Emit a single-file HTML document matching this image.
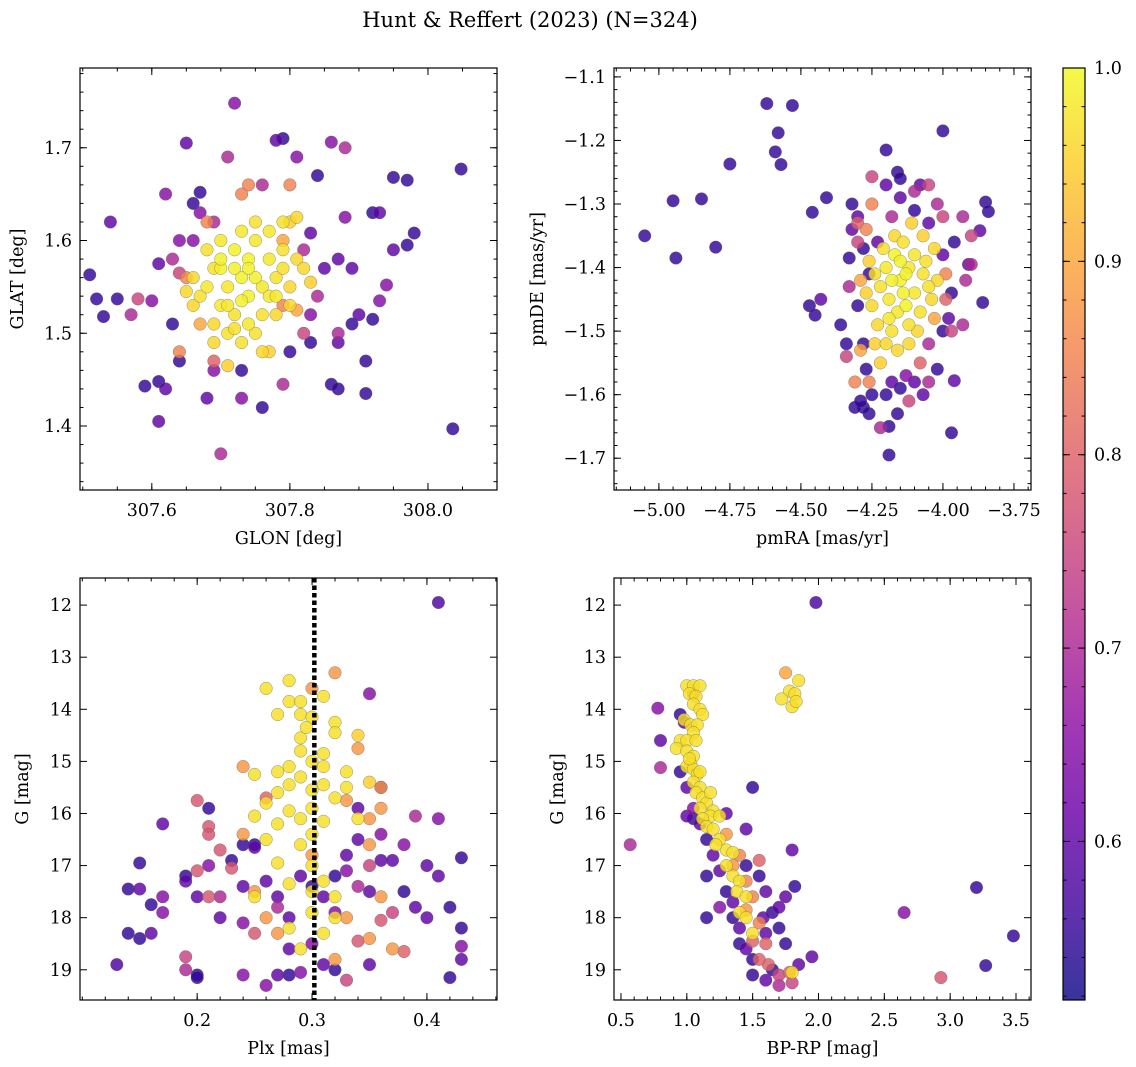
<!DOCTYPE html>
<html><head><meta charset="utf-8"><style>
html,body{margin:0;padding:0;background:#fff;}
svg{display:block;font-family:"DejaVu Serif","Liberation Serif",serif;}
</style></head><body>
<svg id="chart" width="1136" height="1067" viewBox="0 0 1136 1067">
<defs>
<linearGradient id="cbgrad" x1="0" y1="1" x2="0" y2="0">
<stop offset="0" stop-color="#0d0887"/><stop offset="0.1" stop-color="#41049d"/><stop offset="0.2" stop-color="#6a00a8"/><stop offset="0.3" stop-color="#8f0da4"/><stop offset="0.4" stop-color="#b12a90"/><stop offset="0.5" stop-color="#cc4778"/><stop offset="0.6" stop-color="#e16462"/><stop offset="0.7" stop-color="#f2844b"/><stop offset="0.8" stop-color="#fca636"/><stop offset="0.9" stop-color="#fcce25"/><stop offset="1" stop-color="#f0f921"/>
</linearGradient>
</defs>
<text x="530" y="27" font-size="21" text-anchor="middle">Hunt &amp; Reffert (2023) (N=324)</text>
</svg>
<script>
// ---------- data (approximate) ----------
const skyStars = [[307.51,1.563,0.55],[307.52,1.537,0.55],[307.53,1.518,0.55],[307.54,1.62,0.6],[307.55,1.537,0.55],[307.57,1.52,0.7],[307.58,1.537,0.75],[307.59,1.443,0.55],[307.61,1.405,0.6],[307.61,1.448,0.55],[307.62,1.44,0.6],[307.62,1.65,0.65],[307.63,1.51,0.55],[307.64,1.47,0.55],[307.64,1.6,0.65],[307.65,1.705,0.6],[307.66,1.64,0.55],[307.67,1.652,0.55],[307.68,1.43,0.6],[307.69,1.46,0.65],[307.7,1.37,0.7],[307.71,1.69,0.7],[307.72,1.748,0.65],[307.73,1.46,0.55],[307.73,1.43,0.65],[307.76,1.42,0.55],[307.78,1.708,0.6],[307.79,1.71,0.55],[307.79,1.445,0.7],[307.81,1.69,0.65],[307.83,1.608,0.6],[307.84,1.67,0.55],[307.86,1.706,0.65],[307.86,1.445,0.55],[307.87,1.44,0.55],[307.88,1.7,0.7],[307.88,1.625,0.65],[307.87,1.58,0.6],[307.89,1.51,0.55],[307.89,1.57,0.6],[307.9,1.52,0.6],[307.91,1.47,0.55],[307.92,1.515,0.55],[307.92,1.63,0.55],[307.91,1.435,0.55],[307.93,1.63,0.6],[307.93,1.535,0.65],[307.94,1.552,0.65],[307.95,1.59,0.6],[307.95,1.668,0.55],[307.97,1.665,0.55],[307.98,1.608,0.55],[307.97,1.595,0.55],[308.036,1.397,0.55],[308.048,1.677,0.55],[307.87,1.49,0.6],[307.87,1.5,0.7],[307.83,1.49,0.55],[307.8,1.48,0.55],[307.85,1.57,0.6],[307.82,1.59,0.7],[307.61,1.575,0.6],[307.6,1.535,0.65],[307.63,1.58,0.7],[307.67,1.63,0.65],[307.69,1.62,0.7],[307.66,1.6,0.65],[307.83,1.52,0.65],[307.84,1.54,0.7],[307.82,1.5,0.75],[307.76,1.66,0.7],[307.8,1.66,0.85],[307.74,1.66,0.85],[307.73,1.65,0.85],[307.68,1.62,0.85],[307.64,1.48,0.85],[307.69,1.47,0.8],[307.77,1.48,0.95],[307.71,1.465,0.95],[307.67,1.51,0.9],[307.81,1.525,0.9],[307.79,1.53,0.85],[307.65,1.56,0.85],[307.79,1.6,0.9],[307.8,1.62,0.95],[307.64,1.565,0.75],
[307.70,1.60,0.98],[307.72,1.59,0.99],[307.74,1.58,0.99],[307.75,1.60,0.98],[307.73,1.56,0.99],[307.71,1.55,0.98],[307.69,1.57,0.97],[307.68,1.55,0.98],[307.67,1.54,0.97],[307.66,1.53,0.96],[307.70,1.53,0.98],[307.72,1.52,0.97],[307.74,1.54,0.99],[307.76,1.55,0.98],[307.78,1.56,0.97],[307.77,1.58,0.98],[307.79,1.57,0.97],[307.80,1.55,0.96],[307.81,1.58,0.96],[307.76,1.52,0.97],[307.74,1.51,0.98],[307.71,1.50,0.97],[307.69,1.51,0.96],[307.73,1.49,0.97],[307.75,1.50,0.97],[307.78,1.52,0.96],[307.79,1.62,0.97],[307.81,1.625,0.96],[307.77,1.61,0.98],[307.75,1.62,0.97],[307.73,1.61,0.98],[307.68,1.59,0.97],[307.66,1.56,0.96],[307.70,1.57,0.99],[307.72,1.57,0.99],[307.75,1.56,0.99],[307.77,1.54,0.98],[307.73,1.535,0.99],[307.71,1.53,0.98],[307.76,1.48,0.96],[307.83,1.555,0.95],[307.82,1.57,0.96],[307.79,1.59,0.97],[307.65,1.545,0.96],[307.70,1.58,0.99],[307.74,1.57,0.99],[307.78,1.54,0.98],[307.72,1.505,0.97],[307.80,1.53,0.96],[307.69,1.49,0.96]];

const pmStars = [[-5.05,-1.35,0.55],[-4.95,-1.295,0.55],[-4.94,-1.385,0.55],[-4.85,-1.292,0.55],[-4.8,-1.368,0.55],[-4.75,-1.237,0.55],[-4.62,-1.142,0.55],[-4.58,-1.188,0.55],[-4.59,-1.218,0.55],[-4.57,-1.238,0.55],[-4.53,-1.145,0.55],[-4.46,-1.313,0.55],[-4.41,-1.29,0.55],[-4.47,-1.46,0.55],[-4.45,-1.475,0.55],[-4.43,-1.45,0.6],[-4.36,-1.49,0.55],[-4.33,-1.385,0.55],[-4.34,-1.52,0.55],[-4.19,-1.695,0.55],[-4.0,-1.185,0.55],[-3.97,-1.66,0.55],[-3.85,-1.297,0.55],[-3.84,-1.312,0.55],[-3.86,-1.455,0.55],[-3.87,-1.342,0.6],[-3.9,-1.395,0.7],[-3.91,-1.395,0.6],[-3.93,-1.32,0.7],[-3.96,-1.36,0.55],[-3.96,-1.578,0.6],[-3.93,-1.49,0.7],[-4.2,-1.215,0.55],[-4.16,-1.25,0.55],[-4.25,-1.257,0.75],[-4.22,-1.652,0.7],
[-4.25,-1.30,0.85],[-4.27,-1.34,0.85],[-4.30,-1.33,0.8],[-4.29,-1.42,0.9],[-4.29,-1.53,0.9],[-4.26,-1.58,0.85],[-4.33,-1.43,0.7],[-4.34,-1.54,0.75],[-4.31,-1.58,0.85],[-4.02,-1.30,0.7],[-4.05,-1.27,0.75],[-4.1,-1.28,0.7],[-4.0,-1.32,0.75],[-3.97,-1.50,0.75],[-3.99,-1.45,0.8],[-4.05,-1.52,0.7],[-4.05,-1.58,0.7],[-4.12,-1.61,0.75],[-4.08,-1.55,0.8],[-3.92,-1.42,0.7],[-3.9,-1.35,0.75],[-4.18,-1.32,0.7],[-4.13,-1.57,0.65],[-4.3,-1.36,0.75],[-3.99,-1.41,0.85],[-4.03,-1.48,0.9],
[-4.32,-1.30,0.55],[-4.30,-1.32,0.6],[-4.28,-1.37,0.55],[-4.32,-1.34,0.6],[-4.3,-1.46,0.55],[-4.28,-1.52,0.55],[-4.27,-1.56,0.55],[-4.25,-1.60,0.55],[-4.26,-1.63,0.55],[-4.28,-1.62,0.55],[-4.31,-1.62,0.55],[-4.2,-1.60,0.55],[-4.18,-1.58,0.6],[-4.15,-1.59,0.55],[-4.1,-1.58,0.6],[-4.07,-1.6,0.6],[-4.02,-1.56,0.55],[-4.0,-1.5,0.55],[-3.98,-1.48,0.6],[-3.97,-1.44,0.55],[-4.0,-1.38,0.6],[-4.05,-1.33,0.6],[-4.1,-1.31,0.55],[-4.15,-1.29,0.6],[-4.15,-1.26,0.55],[-4.08,-1.27,0.6],[-4.2,-1.27,0.6],[-4.23,-1.36,0.6],[-4.26,-1.41,0.55],[-4.16,-1.63,0.55],[-4.19,-1.65,0.55],[-4.29,-1.61,0.55],
[-4.20,-1.40,0.98],[-4.17,-1.38,0.99],[-4.15,-1.42,0.99],[-4.12,-1.40,0.98],[-4.10,-1.44,0.98],[-4.13,-1.46,0.99],[-4.16,-1.47,0.98],[-4.19,-1.45,0.98],[-4.22,-1.43,0.97],[-4.24,-1.41,0.97],[-4.21,-1.37,0.97],[-4.14,-1.36,0.97],[-4.10,-1.38,0.98],[-4.07,-1.41,0.97],[-4.05,-1.43,0.97],[-4.08,-1.47,0.97],[-4.12,-1.49,0.97],[-4.18,-1.50,0.97],[-4.23,-1.49,0.96],[-4.25,-1.46,0.96],[-4.20,-1.52,0.96],[-4.16,-1.53,0.96],[-4.22,-1.55,0.95],[-4.12,-1.52,0.96],[-4.06,-1.39,0.97],[-4.03,-1.37,0.96],[-4.02,-1.42,0.96],[-4.04,-1.45,0.96],[-4.18,-1.42,0.99],[-4.14,-1.44,0.99],[-4.17,-1.35,0.96],[-4.11,-1.33,0.95],[-4.26,-1.39,0.95],[-4.27,-1.44,0.95],[-4.24,-1.52,0.95],[-4.09,-1.50,0.96],[-4.13,-1.41,0.99],[-4.19,-1.48,0.98],[-4.07,-1.35,0.95],[-4.15,-1.39,0.99]];

const plxStars = [[0.28,13.45,0.97],[0.28,13.85,0.97],[0.29,13.85,0.97],[0.29,14.1,0.97],[0.27,14.1,0.97],[0.30,14.15,0.97],[0.32,14.25,0.97],[0.32,14.45,0.97],[0.29,14.55,0.97],[0.29,14.8,0.97],[0.31,14.85,0.97],[0.30,15.0,0.97],[0.31,15.1,0.97],[0.25,15.25,0.97],[0.27,15.2,0.97],[0.29,15.3,0.97],[0.28,15.45,0.97],[0.30,15.55,0.97],[0.33,15.5,0.97],[0.31,15.45,0.97],[0.27,15.6,0.97],[0.26,15.8,0.97],[0.28,15.95,0.97],[0.30,15.9,0.97],[0.32,15.7,0.97],[0.29,16.1,0.97],[0.27,16.2,0.97],[0.25,16.05,0.97],[0.31,16.15,0.97],[0.33,15.2,0.97],[0.34,14.5,0.95],[0.35,15.4,0.95],[0.29,16.6,0.97],[0.26,16.5,0.97],[0.27,16.95,0.97],[0.30,17.0,0.97],[0.31,17.3,0.97],[0.30,17.5,0.97],[0.28,17.35,0.97],[0.25,17.6,0.97],[0.32,17.6,0.97],[0.30,17.9,0.97],[0.28,18.2,0.97],[0.29,18.6,0.97],[0.31,18.3,0.97],[0.32,18.0,0.97],[0.28,15.1,0.97],[0.30,16.4,0.97],[0.34,16.1,0.97],[0.26,13.6,0.97],[0.31,13.75,0.97],[0.295,14.35,0.97],
[0.24,15.1,0.88],[0.24,16.4,0.88],[0.25,17.5,0.88],[0.26,18.0,0.88],[0.32,13.3,0.88],[0.36,15.5,0.88],[0.35,16.1,0.88],[0.34,14.75,0.88],[0.33,15.75,0.88],[0.36,17.6,0.88],[0.33,18.0,0.88],[0.35,18.4,0.88],[0.37,18.6,0.88],[0.32,18.8,0.88],[0.30,16.8,0.88],[0.27,18.3,0.88],[0.35,16.6,0.88],[0.3,13.6,0.88],[0.36,15.9,0.88],
[0.2,15.75,0.78],[0.21,16.25,0.78],[0.21,16.4,0.78],[0.22,16.7,0.78],[0.20,17.1,0.78],[0.21,17.6,0.78],[0.19,18.75,0.75],[0.23,17.05,0.78],[0.38,18.65,0.8],[0.36,18.05,0.78],[0.34,18.45,0.78],[0.33,19.2,0.75],[0.25,18.3,0.78],[0.35,17.0,0.75],[0.37,17.9,0.75],[0.26,15.7,0.8],
[0.13,18.9,0.58],[0.14,17.45,0.55],[0.14,18.3,0.55],[0.15,16.95,0.55],[0.15,17.45,0.6],[0.15,18.4,0.55],[0.16,17.75,0.55],[0.16,18.3,0.6],[0.17,17.6,0.65],[0.17,17.9,0.65],[0.17,16.2,0.6],[0.19,17.2,0.55],[0.19,17.3,0.6],[0.19,19.0,0.7],[0.20,19.1,0.55],[0.20,19.15,0.55],[0.20,17.6,0.6],[0.21,15.9,0.55],[0.21,17.0,0.65],[0.22,17.6,0.7],[0.22,18.0,0.6],[0.23,16.9,0.55],[0.24,17.4,0.6],[0.24,18.1,0.65],[0.24,19.1,0.65],[0.25,16.6,0.55],[0.25,16.65,0.6],[0.26,17.3,0.6],[0.27,17.8,0.7],[0.28,18.0,0.6],[0.28,18.6,0.6],[0.28,19.1,0.55],[0.27,19.1,0.6],[0.26,19.3,0.65],[0.29,17.2,0.6],[0.30,17.4,0.55],[0.31,17.6,0.6],[0.32,17.9,0.65],[0.32,17.2,0.55],[0.33,16.8,0.6],[0.33,17.1,0.65],[0.34,16.5,0.6],[0.34,17.4,0.7],[0.35,17.5,0.6],[0.35,18.9,0.6],[0.36,16.4,0.65],[0.36,16.9,0.6],[0.37,16.9,0.6],[0.38,16.6,0.65],[0.38,17.5,0.55],[0.39,16.05,0.7],[0.39,17.8,0.6],[0.40,18.0,0.6],[0.40,17.0,0.6],[0.41,16.1,0.65],[0.42,17.8,0.55],[0.43,16.85,0.55],[0.43,18.2,0.55],[0.43,18.55,0.65],[0.43,18.8,0.6],[0.42,19.15,0.55],[0.41,11.95,0.58],[0.41,17.2,0.6],[0.35,13.7,0.65],[0.36,15.5,0.6],[0.34,15.9,0.6],[0.32,19.0,0.55],[0.31,18.9,0.6],[0.29,19.05,0.65],[0.30,18.5,0.65],[0.27,17.6,0.6],[0.24,16.6,0.55]];

const cmdStars = [[1.0,13.55,0.97],[1.05,13.55,0.97],[1.1,13.55,0.97],[1.02,13.7,0.97],[1.07,13.75,0.97],[1.05,13.9,0.97],[1.1,14.0,0.97],[1.12,14.1,0.97],[0.98,14.2,0.97],[1.03,14.3,0.97],[1.08,14.3,0.97],[1.05,14.45,0.97],[0.95,14.6,0.97],[1.0,14.6,0.97],[1.07,14.6,0.97],[0.92,14.75,0.97],[1.0,14.8,0.97],[1.05,14.9,0.97],[1.03,15.05,0.97],[1.0,15.1,0.97],[1.05,15.15,0.97],[1.08,15.25,0.97],[1.05,15.4,0.97],[1.1,15.5,0.97],[1.07,15.6,0.97],[1.12,15.7,0.97],[1.15,15.8,0.97],[1.1,15.9,0.97],[1.2,15.95,0.97],[1.18,16.05,0.97],[1.12,16.1,0.97],[1.15,16.25,0.97],[1.2,16.3,0.97],[1.25,16.5,0.97],[1.3,16.7,0.97],[1.35,16.75,0.97],[1.3,17.0,0.97],[1.35,17.2,0.97],[1.4,17.3,0.97],[1.38,17.5,0.97],[1.45,17.6,0.97],[1.4,17.9,0.97],[1.45,18.0,0.97],[1.5,18.3,0.97],[1.8,19.05,0.97],[1.75,13.3,0.9],[1.78,13.65,0.97],[1.82,13.7,0.97],[1.85,13.45,0.97],[1.72,13.8,0.97],[1.8,13.95,0.97],[1.83,13.85,0.97],[1.25,16.05,0.97],[1.18,15.6,0.97],[1.02,14.95,0.97],[1.22,16.6,0.97],[1.1,15.2,0.97],
[1.3,16.4,0.88],[1.4,16.8,0.85],[1.35,17.0,0.88],[1.45,17.3,0.85],[1.5,17.6,0.85],[1.45,17.85,0.88],[1.55,18.1,0.85],[1.5,18.45,0.8],[1.6,18.5,0.8],[1.62,18.9,0.8],[1.55,18.8,0.8],[1.7,19.1,0.75],[1.78,19.05,0.8],[1.8,19.25,0.75],[1.7,19.3,0.7],[2.93,19.15,0.78],[0.57,16.6,0.7],[0.8,15.12,0.7],[0.78,13.98,0.65],[1.55,16.9,0.8],[1.05,13.7,0.85],
[0.95,14.1,0.55],[0.98,14.25,0.6],[0.8,14.6,0.6],[0.95,15.2,0.55],[1.0,15.5,0.6],[1.0,16.05,0.6],[1.05,16.1,0.55],[1.05,15.9,0.65],[1.1,16.2,0.6],[1.15,16.5,0.55],[1.2,16.8,0.6],[1.15,17.2,0.55],[1.25,17.1,0.6],[1.3,17.5,0.55],[1.35,17.7,0.6],[1.25,17.8,0.65],[1.35,18.0,0.55],[1.4,18.2,0.6],[1.4,18.5,0.55],[1.45,18.6,0.6],[1.5,18.8,0.55],[1.5,19.1,0.55],[1.6,18.3,0.6],[1.65,19.0,0.55],[1.6,19.2,0.6],[1.7,18.2,0.55],[1.7,17.8,0.6],[1.75,18.5,0.55],[1.82,17.4,0.55],[1.75,17.6,0.6],[1.8,16.7,0.6],[1.5,15.5,0.55],[1.95,18.75,0.6],[1.98,11.95,0.58],[1.15,18.0,0.55],[2.65,17.9,0.65],[3.2,17.42,0.55],[3.27,18.92,0.55],[3.48,18.35,0.55],[1.55,17.2,0.55],[1.6,17.5,0.6],[1.65,17.9,0.55],[1.45,16.3,0.6],[1.3,16.0,0.6],[1.85,18.9,0.6],[1.58,18.0,0.6],[1.45,17.0,0.55]];

const p1XTicks = [307.6, 307.8, 308.0];
const p1YTicks = [1.4, 1.5, 1.6, 1.7];
const p2XTicks = [-5.0, -4.75, -4.5, -4.25, -4.0, -3.75];
const p2XLabels = ["\u22125.00","\u22124.75","\u22124.50","\u22124.25","\u22124.00","\u22123.75"];
const p2YTicks = [-1.7, -1.6, -1.5, -1.4, -1.3, -1.2, -1.1];
const p3XTicks = [0.2, 0.3, 0.4];
const gTicks = [12, 13, 14, 15, 16, 17, 18, 19];
const p4XTicks = [0.5, 1.0, 1.5, 2.0, 2.5, 3.0, 3.5];
const cbTicks = [0.6, 0.7, 0.8, 0.9, 1.0];
const plxCut = [0.302];

const NS = "http://www.w3.org/2000/svg";
const svg = document.getElementById('chart');
const FS = 17.5;
const VMIN = 0.518, VMAX = 1.0;
const stops = ["#0d0887","#41049d","#6a00a8","#8f0da4","#b12a90","#cc4778","#e16462","#f2844b","#fca636","#fcce25","#f0f921"];
function hex(h){return [parseInt(h.slice(1,3),16),parseInt(h.slice(3,5),16),parseInt(h.slice(5,7),16)];}
function cmap(v){
  let t=(v-VMIN)/(VMAX-VMIN); t=Math.max(0,Math.min(1,t));
  const f=t*10, i=Math.min(9,Math.floor(f)), r=f-i;
  const a=hex(stops[i]), b=hex(stops[i+1]);
  return 'rgb('+a.map((x,k)=>Math.round(x+(b[k]-x)*r)).join(',')+')';
}
function mk(tag, attrs, parent){
  const e=document.createElementNS(NS,tag);
  for(const k in attrs) e.setAttribute(k,attrs[k]);
  (parent||svg).appendChild(e); return e;
}
function fmt(v,d){return (v<0?"\u2212":"")+Math.abs(v).toFixed(d);}

function panel(cfg){
  const g=mk('g',{});
  
  
  const {x0,x1,y0,y1,xlim,ylim}=cfg;
  const sx=v=>x0+(v-xlim[0])/(xlim[1]-xlim[0])*(x1-x0);
  const sy=v=>y1-(v-ylim[0])/(ylim[1]-ylim[0])*(y1-y0);
  const pts=cfg.data.slice().sort((a,b)=>a[2]-b[2]);
  const pg=mk('g',{},g);
  
  
  for(const p of pts){
    const c=mk('circle',{cx:sx(p[0]).toFixed(1),cy:sy(p[1]).toFixed(1),r:6.3,fill:cmap(p[2]),'fill-opacity':0.82,stroke:'#666','stroke-width':0.5,'stroke-opacity':0.7},pg);
    
    
  }
  if(cfg.vline){
    for(const v of cfg.vline){
      const l=mk('line',{x1:sx(v),x2:sx(v),y1:y0,y2:y1,stroke:'#000','stroke-width':4.5,'stroke-dasharray':'4.5,3'},g);
      
      
    }
  }
  const tg=mk('g',{stroke:'#000','stroke-width':1},g);
  function minorRange(lim,step){const a=[];let s=Math.ceil(lim[0]/step-1e-6)*step;for(let v=s;v<=lim[1]+1e-9;v+=step)a.push(v);return a;}
  for(const v of minorRange(xlim,cfg.xminor)){const X=sx(v);mk('line',{x1:X,x2:X,y1:y1,y2:y1-3.5},tg);mk('line',{x1:X,x2:X,y1:y0,y2:y0+3.5},tg);}
  for(const v of minorRange(ylim,cfg.yminor)){const Y=sy(v);mk('line',{x1:x0,x2:x0+3.5,y1:Y,y2:Y},tg);mk('line',{x1:x1,x2:x1-3.5,y1:Y,y2:Y},tg);}
  cfg.xticks.forEach((v,i)=>{const X=sx(v);mk('line',{x1:X,x2:X,y1:y1,y2:y1-7},tg);mk('line',{x1:X,x2:X,y1:y0,y2:y0+7},tg);
    const t=mk('text',{x:X,y:y1+26,'font-size':FS,'text-anchor':'middle'},g);t.textContent=cfg.xlabels?cfg.xlabels[i]:fmt(v,cfg.xdec);
    
    });
  cfg.yticks.forEach(v=>{const Y=sy(v);mk('line',{x1:x0,x2:x0+7,y1:Y,y2:Y},tg);mk('line',{x1:x1,x2:x1-7,y1:Y,y2:Y},tg);
    const t=mk('text',{x:x0-8,y:Y+6,'font-size':FS,'text-anchor':'end'},g);t.textContent=fmt(v,cfg.ydec);
    
    });
  const fr=mk('rect',{x:x0,y:y0,width:x1-x0,height:y1-y0,fill:'none',stroke:'#000','stroke-width':1.2},g);
  
  
  const xl=mk('text',{x:(x0+x1)/2,y:y1+54,'font-size':FS,'text-anchor':'middle'},g);xl.textContent=cfg.xtitle;
  
  
  const yl=mk('text',{x:0,y:0,'font-size':FS,'text-anchor':'middle',transform:`translate(${cfg.ytx},${(y0+y1)/2}) rotate(-90)`},g);yl.textContent=cfg.ytitle;
  
  
}

panel({name:'sky-panel',x0:80,x1:497,y0:68,y1:490,xlim:[307.496,308.1],ylim:[1.331,1.786],data:skyStars,xticks:p1XTicks,yticks:p1YTicks,xdec:1,ydec:1,xminor:0.05,yminor:0.02,xtitle:'GLON [deg]',ytitle:'GLAT [deg]',ytx:23});
panel({name:'proper-motion-panel',x0:614,x1:1031,y0:68,y1:490,xlim:[-5.158,-3.690],ylim:[-1.750,-1.086],data:pmStars,xticks:p2XTicks,xlabels:p2XLabels,yticks:p2YTicks,xdec:2,ydec:1,xminor:0.05,yminor:0.02,xtitle:'pmRA [mas/yr]',ytitle:'pmDE [mas/yr]',ytx:543});
panel({name:'parallax-magnitude-panel',x0:80,x1:497,y0:578,y1:1000,xlim:[0.098,0.461],ylim:[19.58,11.48],data:plxStars,xticks:p3XTicks,yticks:gTicks,xdec:1,ydec:0,xminor:0.02,yminor:0.2,xtitle:'Plx [mas]',ytitle:'G [mag]',ytx:28,vline:plxCut});
panel({name:'color-magnitude-panel',x0:614,x1:1031,y0:578,y1:1000,xlim:[0.447,3.614],ylim:[19.58,11.48],data:cmdStars,xticks:p4XTicks,yticks:gTicks,xdec:1,ydec:0,xminor:0.1,yminor:0.2,xtitle:'BP-RP [mag]',ytitle:'G [mag]',ytx:563});

(function(){
  const x0=1063,x1=1085,y0=68,y1=1000;
  const g=mk('g',{});
  
  
  mk('rect',{x:x0,y:y0,width:x1-x0,height:y1-y0,fill:'url(#cbgrad)','fill-opacity':0.82},g);
  mk('rect',{x:x0,y:y0,width:x1-x0,height:y1-y0,fill:'none',stroke:'#000','stroke-width':1.2},g);
  const sy=v=>y1-(v-VMIN)/(VMAX-VMIN)*(y1-y0);
  for(let v=0.52;v<=1.0001;v+=0.02){const Y=sy(v);mk('line',{x1:x1,x2:x1-3.5,y1:Y,y2:Y,stroke:'#000'},g);mk('line',{x1:x0,x2:x0+3.5,y1:Y,y2:Y,stroke:'#000'},g);}
  cbTicks.forEach(v=>{const Y=sy(v);mk('line',{x1:x1,x2:x1-7,y1:Y,y2:Y,stroke:'#000'},g);mk('line',{x1:x0,x2:x0+7,y1:Y,y2:Y,stroke:'#000'},g);
    const t=mk('text',{x:x1+9,y:Y+6,'font-size':FS},g);t.textContent=v.toFixed(1);
    
    });
})();
</script>
</body></html>
